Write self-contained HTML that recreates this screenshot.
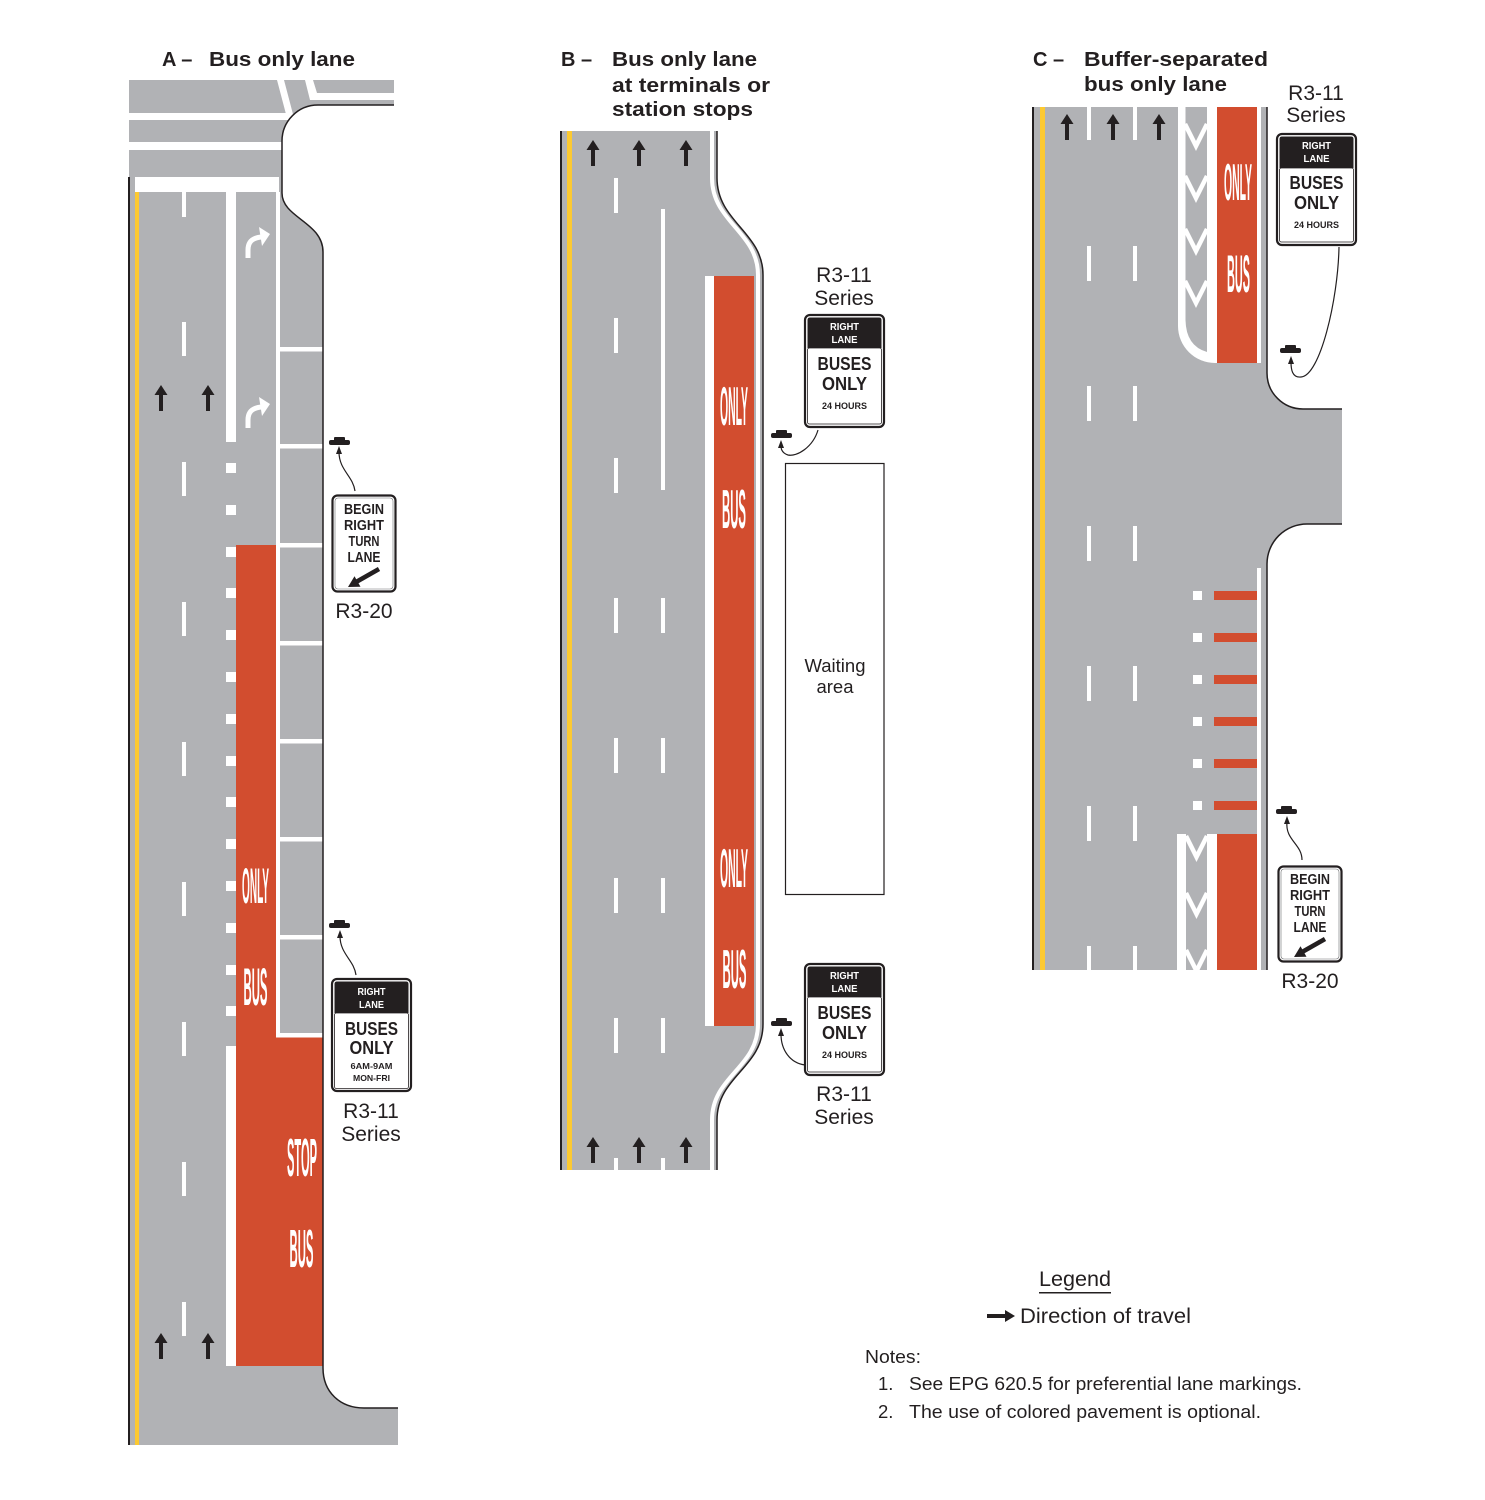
<!DOCTYPE html>
<html>
<head>
<meta charset="utf-8">
<style>
  html,body{margin:0;padding:0;background:#fff;}
  svg{display:block;}
  .t{font-family:"Liberation Sans",Arial,sans-serif;}
</style>
</head>
<body>
<svg width="1485" height="1500" viewBox="0 0 1485 1500" xmlns="http://www.w3.org/2000/svg">
<rect width="1485" height="1500" fill="#fff"/>

<!-- ================= PANEL A ================= -->
<g class="t" font-weight="bold" font-size="20" fill="#231f20">
  <text x="162" y="66">A –</text>
  <text x="209" y="66" textLength="146" lengthAdjust="spacingAndGlyphs">Bus only lane</text>
</g>

<path d="M129 80 H394 V105 H318 A36 36 0 0 0 282 141 V193 C282 218 323 222 323 252 V1368 C323 1392 340 1408 364 1408 H398 V1445 H129 Z" fill="#b1b2b5"/>
<rect x="129" y="113" width="160" height="7" fill="#fff"/>
<polygon points="277,80 284,80 294,118 287,118" fill="#fff"/>
<rect x="129" y="142" width="153" height="8" fill="#fff"/>
<polygon points="305,80 313,80 317,93 394,93 394,100 310,100" fill="#fff"/>
<rect x="135" y="177" width="144" height="15" fill="#fff"/>
<rect x="128" y="177" width="2" height="1268" fill="#231f20"/>
<rect x="135" y="192" width="4" height="1253" fill="#fcc931"/>
<g fill="#fff">
  <rect x="182" y="192" width="4" height="25"/>
  <rect x="182" y="322" width="4" height="34"/>
  <rect x="182" y="462" width="4" height="34"/>
  <rect x="182" y="602" width="4" height="34"/>
  <rect x="182" y="742" width="4" height="34"/>
  <rect x="182" y="882" width="4" height="34"/>
  <rect x="182" y="1022" width="4" height="34"/>
  <rect x="182" y="1162" width="4" height="34"/>
  <rect x="182" y="1302" width="4" height="34"/>
</g>
<rect x="236" y="545" width="40" height="490" fill="#d24d2f"/>
<rect x="236" y="1035" width="87" height="331" fill="#d24d2f"/>
<g fill="#fff">
  <rect x="226" y="192" width="10" height="250"/>
  <rect x="226" y="463" width="10" height="10"/>
  <rect x="226" y="505" width="10" height="10"/>
  <rect x="226" y="547" width="10" height="10"/>
  <rect x="226" y="588" width="10" height="10"/>
  <rect x="226" y="630" width="10" height="10"/>
  <rect x="226" y="672" width="10" height="10"/>
  <rect x="226" y="714" width="10" height="10"/>
  <rect x="226" y="756" width="10" height="10"/>
  <rect x="226" y="797" width="10" height="10"/>
  <rect x="226" y="839" width="10" height="10"/>
  <rect x="226" y="881" width="10" height="10"/>
  <rect x="226" y="923" width="10" height="10"/>
  <rect x="226" y="965" width="10" height="10"/>
  <rect x="226" y="1006" width="10" height="10"/>
  <rect x="226" y="1046" width="10" height="320"/>
</g>
<g fill="#fff">
  <rect x="276" y="192" width="4" height="845"/>
  <rect x="280" y="347" width="43" height="4.5"/>
  <rect x="280" y="444" width="43" height="4.5"/>
  <rect x="280" y="543" width="43" height="4.5"/>
  <rect x="280" y="641" width="43" height="4.5"/>
  <rect x="280" y="739" width="43" height="4.5"/>
  <rect x="280" y="837" width="43" height="4.5"/>
  <rect x="280" y="935" width="43" height="4.5"/>
  <rect x="276" y="1033" width="47" height="4.5"/>
</g>
<path d="M394 105 H318 A36 36 0 0 0 282 141 V193 C282 218 323 222 323 252 V1368 C323 1392 340 1408 364 1408 H398" fill="none" stroke="#231f20" stroke-width="1.5"/>
<g fill="none" stroke="#fff" stroke-width="5">
  <path d="M248 258 V250 C248 242 252 238 261 237"/>
  <path d="M248 428 V420 C248 412 252 408 261 407"/>
</g>
<g fill="#fff">
  <polygon points="270,234 259,227 262,246"/>
  <polygon points="270,404 259,397 262,416"/>
</g>
<g fill="#231f20">
  <path transform="translate(161,385)" d="M-2 26 V10 H-6.5 L0 0 L6.5 10 H2 V26Z"/>
  <path transform="translate(208,385)" d="M-2 26 V10 H-6.5 L0 0 L6.5 10 H2 V26Z"/>
  <path transform="translate(161,1333)" d="M-2 26 V10 H-6.5 L0 0 L6.5 10 H2 V26Z"/>
  <path transform="translate(208,1333)" d="M-2 26 V10 H-6.5 L0 0 L6.5 10 H2 V26Z"/>
</g>
<g class="t" fill="#fff" font-weight="bold" text-anchor="middle">
  <text x="255.5" y="903" font-size="50" textLength="27" lengthAdjust="spacingAndGlyphs">ONLY</text>
  <text x="255.5" y="1005" font-size="53" textLength="24" lengthAdjust="spacingAndGlyphs">BUS</text>
  <text x="302" y="1176" font-size="54" textLength="30" lengthAdjust="spacingAndGlyphs">STOP</text>
  <text x="301.5" y="1267" font-size="54" textLength="24" lengthAdjust="spacingAndGlyphs">BUS</text>
</g>

<!-- Sign A R3-20 -->
<g>
  <rect x="332.5" y="495.5" width="63" height="96" rx="5" fill="#fff" stroke="#231f20" stroke-width="2.2"/>
  <rect x="335" y="498" width="58" height="91" rx="3" fill="none" stroke="#6d6e70" stroke-width="0.6"/>
  <g class="t" font-weight="bold" font-size="14.5" fill="#231f20" text-anchor="middle">
    <text x="364" y="514" textLength="40" lengthAdjust="spacingAndGlyphs">BEGIN</text>
    <text x="364" y="530" textLength="40" lengthAdjust="spacingAndGlyphs">RIGHT</text>
    <text x="364" y="546" textLength="31" lengthAdjust="spacingAndGlyphs">TURN</text>
    <text x="364" y="562" textLength="33" lengthAdjust="spacingAndGlyphs">LANE</text>
  </g>
  <line x1="379" y1="569" x2="357" y2="581.5" stroke="#231f20" stroke-width="4.5"/>
  <polygon points="348,587 360.5,586.7 354.5,576.3" fill="#231f20"/>
</g>
<text class="t" x="364" y="618" font-size="21" text-anchor="middle" fill="#231f20">R3-20</text>
<rect x="329" y="440" width="21" height="5" rx="2" fill="#231f20"/>
<rect x="334" y="437" width="11" height="4" rx="1" fill="#231f20"/>
<path d="M355 491 C353 476 339 470 339 452" fill="none" stroke="#231f20" stroke-width="1.2"/>
<polygon points="339,446 336,454 342,454" fill="#231f20"/>

<!-- Sign A R3-11 -->
<g>
  <rect x="332" y="979" width="79" height="112" rx="5" fill="#fff" stroke="#231f20" stroke-width="2.2"/>
  <path d="M334.5 1013 V984 Q334.5 981.5 337 981.5 H406 Q408.5 981.5 408.5 984 V1013 Z" fill="#231f20"/>
  <rect x="334.5" y="1013" width="74" height="75.5" rx="2" fill="none" stroke="#231f20" stroke-width="0.8"/>
  <g class="t" font-weight="bold" text-anchor="middle">
    <text x="371.5" y="995" font-size="10.5" fill="#fff" textLength="28" lengthAdjust="spacingAndGlyphs">RIGHT</text>
    <text x="371.5" y="1008" font-size="10.5" fill="#fff" textLength="25" lengthAdjust="spacingAndGlyphs">LANE</text>
    <text x="371.5" y="1035" font-size="18" fill="#231f20" textLength="53" lengthAdjust="spacingAndGlyphs">BUSES</text>
    <text x="371.5" y="1054" font-size="18" fill="#231f20" textLength="44" lengthAdjust="spacingAndGlyphs">ONLY</text>
    <text x="371.5" y="1069" font-size="8.5" fill="#231f20" textLength="42" lengthAdjust="spacingAndGlyphs">6AM-9AM</text>
    <text x="371.5" y="1081" font-size="8.5" fill="#231f20" textLength="37" lengthAdjust="spacingAndGlyphs">MON-FRI</text>
  </g>
</g>
<g class="t" font-size="21" text-anchor="middle" fill="#231f20">
  <text x="371" y="1118">R3-11</text>
  <text x="371" y="1141">Series</text>
</g>
<rect x="329" y="923" width="21" height="5" rx="2" fill="#231f20"/>
<rect x="334" y="920" width="11" height="4" rx="1" fill="#231f20"/>
<path d="M356 975 C354 960 340 954 340 936" fill="none" stroke="#231f20" stroke-width="1.2"/>
<polygon points="340,930 337,938 343,938" fill="#231f20"/>

<!-- ================= PANEL B ================= -->
<g class="t" font-weight="bold" font-size="20" fill="#231f20">
  <text x="561" y="66">B –</text>
  <text x="612" y="66" textLength="145" lengthAdjust="spacingAndGlyphs">Bus only lane</text>
  <text x="612" y="92" textLength="158" lengthAdjust="spacingAndGlyphs">at terminals or</text>
  <text x="612" y="116" textLength="141" lengthAdjust="spacingAndGlyphs">station stops</text>
</g>
<path d="M561 131 H717 V178 C717 222 763 232 763 275 V1024 C763 1068 717 1076 717 1120 V1170 H561 Z" fill="#b1b2b5"/>
<path transform="translate(-5,0)" d="M717 131 V178 C717 222 763 232 763 275 V1024 C763 1068 717 1076 717 1120 V1170" fill="none" stroke="#fff" stroke-width="4"/>
<path d="M717 131 V178 C717 222 763 232 763 275 V1024 C763 1068 717 1076 717 1120 V1170" fill="none" stroke="#231f20" stroke-width="1.5"/>
<rect x="560" y="131" width="2" height="1039" fill="#231f20"/>
<rect x="567" y="131" width="5" height="1039" fill="#fcc931"/>
<g fill="#fff">
  <rect x="614" y="178" width="4" height="35"/>
  <rect x="614" y="318" width="4" height="35"/>
  <rect x="614" y="458" width="4" height="35"/>
  <rect x="614" y="598" width="4" height="35"/>
  <rect x="614" y="738" width="4" height="35"/>
  <rect x="614" y="878" width="4" height="35"/>
  <rect x="614" y="1018" width="4" height="35"/>
  <rect x="614" y="1158" width="4" height="12"/>
  <rect x="661" y="209" width="4" height="281"/>
  <rect x="661" y="598" width="4" height="35"/>
  <rect x="661" y="738" width="4" height="35"/>
  <rect x="661" y="878" width="4" height="35"/>
  <rect x="661" y="1018" width="4" height="35"/>
  <rect x="661" y="1158" width="4" height="12"/>
  <rect x="705" y="276" width="9" height="750"/>
</g>
<rect x="714" y="276" width="40" height="750" fill="#d24d2f"/>
<g fill="#231f20">
  <path transform="translate(593,140)" d="M-2 26 V10 H-6.5 L0 0 L6.5 10 H2 V26Z"/>
  <path transform="translate(639,140)" d="M-2 26 V10 H-6.5 L0 0 L6.5 10 H2 V26Z"/>
  <path transform="translate(686,140)" d="M-2 26 V10 H-6.5 L0 0 L6.5 10 H2 V26Z"/>
  <path transform="translate(593,1137)" d="M-2 26 V10 H-6.5 L0 0 L6.5 10 H2 V26Z"/>
  <path transform="translate(639,1137)" d="M-2 26 V10 H-6.5 L0 0 L6.5 10 H2 V26Z"/>
  <path transform="translate(686,1137)" d="M-2 26 V10 H-6.5 L0 0 L6.5 10 H2 V26Z"/>
</g>
<g class="t" fill="#fff" font-weight="bold" text-anchor="middle">
  <text x="734" y="425" font-size="55" textLength="28" lengthAdjust="spacingAndGlyphs">ONLY</text>
  <text x="734" y="528" font-size="55" textLength="24" lengthAdjust="spacingAndGlyphs">BUS</text>
  <text x="734" y="887" font-size="55" textLength="28" lengthAdjust="spacingAndGlyphs">ONLY</text>
  <text x="734.5" y="988" font-size="55" textLength="24" lengthAdjust="spacingAndGlyphs">BUS</text>
</g>
<g class="t" font-size="21" text-anchor="middle" fill="#231f20">
  <text x="844" y="282">R3-11</text>
  <text x="844" y="305">Series</text>
  <text x="844" y="1101">R3-11</text>
  <text x="844" y="1124">Series</text>
</g>
<g>
  <rect x="805" y="315" width="79" height="112" rx="5" fill="#fff" stroke="#231f20" stroke-width="2.2"/>
  <path d="M807.5 348 V320 Q807.5 317.5 810 317.5 H879 Q881.5 317.5 881.5 320 V348 Z" fill="#231f20"/>
  <rect x="807.5" y="348" width="74" height="76" rx="2" fill="none" stroke="#231f20" stroke-width="0.8"/>
  <g class="t" font-weight="bold" text-anchor="middle">
    <text x="844.5" y="330" font-size="10.5" fill="#fff" textLength="29" lengthAdjust="spacingAndGlyphs">RIGHT</text>
    <text x="844.5" y="343" font-size="10.5" fill="#fff" textLength="26" lengthAdjust="spacingAndGlyphs">LANE</text>
    <text x="844.5" y="370" font-size="18" fill="#231f20" textLength="54" lengthAdjust="spacingAndGlyphs">BUSES</text>
    <text x="844.5" y="390" font-size="18" fill="#231f20" textLength="45" lengthAdjust="spacingAndGlyphs">ONLY</text>
    <text x="844.5" y="409" font-size="9" fill="#231f20" textLength="45" lengthAdjust="spacingAndGlyphs">24  HOURS</text>
  </g>
</g>
<rect x="771" y="433" width="21" height="5" rx="2" fill="#231f20"/>
<rect x="776" y="430" width="11" height="4" rx="1" fill="#231f20"/>
<path d="M818 430 C813 447 797 457 788 455 C782 453 781 449 781 446" fill="none" stroke="#231f20" stroke-width="1.2"/>
<polygon points="781,440 778,448 784,448" fill="#231f20"/>
<rect x="785.5" y="463.5" width="98.5" height="431" fill="#fff" stroke="#231f20" stroke-width="1.2"/>
<g class="t" font-size="18.5" text-anchor="middle" fill="#231f20">
  <text x="835" y="672">Waiting</text>
  <text x="835" y="693">area</text>
</g>
<g>
  <rect x="805" y="964" width="79" height="111" rx="5" fill="#fff" stroke="#231f20" stroke-width="2.2"/>
  <path d="M807.5 997 V969 Q807.5 966.5 810 966.5 H879 Q881.5 966.5 881.5 969 V997 Z" fill="#231f20"/>
  <rect x="807.5" y="997" width="74" height="75" rx="2" fill="none" stroke="#231f20" stroke-width="0.8"/>
  <g class="t" font-weight="bold" text-anchor="middle">
    <text x="844.5" y="979" font-size="10.5" fill="#fff" textLength="29" lengthAdjust="spacingAndGlyphs">RIGHT</text>
    <text x="844.5" y="992" font-size="10.5" fill="#fff" textLength="26" lengthAdjust="spacingAndGlyphs">LANE</text>
    <text x="844.5" y="1019" font-size="18" fill="#231f20" textLength="54" lengthAdjust="spacingAndGlyphs">BUSES</text>
    <text x="844.5" y="1039" font-size="18" fill="#231f20" textLength="45" lengthAdjust="spacingAndGlyphs">ONLY</text>
    <text x="844.5" y="1058" font-size="9" fill="#231f20" textLength="45" lengthAdjust="spacingAndGlyphs">24  HOURS</text>
  </g>
</g>
<rect x="771" y="1021" width="21" height="5" rx="2" fill="#231f20"/>
<rect x="776" y="1018" width="11" height="4" rx="1" fill="#231f20"/>
<path d="M781 1034 C781 1050 790 1063 805 1065" fill="none" stroke="#231f20" stroke-width="1.2"/>
<polygon points="781,1028 778,1036 784,1036" fill="#231f20"/>

<!-- ================= PANEL C ================= -->
<g class="t" font-weight="bold" font-size="20" fill="#231f20">
  <text x="1033" y="66">C –</text>
  <text x="1084" y="66" textLength="184" lengthAdjust="spacingAndGlyphs">Buffer-separated</text>
  <text x="1084" y="91" textLength="143" lengthAdjust="spacingAndGlyphs">bus only lane</text>
</g>
<path d="M1033 107 H1267 V373 A36 36 0 0 0 1303 409 H1342 V524 H1307 A40 40 0 0 0 1267 564 V970 H1033 Z" fill="#b1b2b5"/>
<path d="M1267 107 V373 A36 36 0 0 0 1303 409 H1342 M1342 524 H1307 A40 40 0 0 0 1267 564 V970" fill="none" stroke="#231f20" stroke-width="1.5"/>
<rect x="1032" y="107" width="2" height="863" fill="#231f20"/>
<rect x="1040" y="107" width="5" height="863" fill="#fcc931"/>
<g fill="#fff">
  <rect x="1087" y="107" width="4" height="33"/>
  <rect x="1133" y="107" width="4" height="33"/>
  <rect x="1087" y="246" width="4" height="35"/>
  <rect x="1133" y="246" width="4" height="35"/>
  <rect x="1087" y="386" width="4" height="35"/>
  <rect x="1133" y="386" width="4" height="35"/>
  <rect x="1087" y="526" width="4" height="35"/>
  <rect x="1133" y="526" width="4" height="35"/>
  <rect x="1087" y="666" width="4" height="35"/>
  <rect x="1133" y="666" width="4" height="35"/>
  <rect x="1087" y="806" width="4" height="35"/>
  <rect x="1133" y="806" width="4" height="35"/>
  <rect x="1087" y="946" width="4" height="24"/>
  <rect x="1133" y="946" width="4" height="24"/>
</g>
<g fill="#231f20">
  <path transform="translate(1067,114)" d="M-2 26 V10 H-6.5 L0 0 L6.5 10 H2 V26Z"/>
  <path transform="translate(1113,114)" d="M-2 26 V10 H-6.5 L0 0 L6.5 10 H2 V26Z"/>
  <path transform="translate(1159,114)" d="M-2 26 V10 H-6.5 L0 0 L6.5 10 H2 V26Z"/>
</g>
<path d="M1178 107 V326 A37 37 0 0 0 1215 363 H1217 V107 Z" fill="#fff"/>
<path d="M1185.5 107 V320 Q1186 346 1207 352 V107 Z" fill="#b1b2b5"/>
<g fill="none" stroke="#fff" stroke-width="4.5">
  <polyline points="1185,124 1196,146 1207,124"/>
  <polyline points="1185,176 1196,198 1207,176"/>
  <polyline points="1185,229 1196,251 1207,229"/>
  <polyline points="1185,281 1196,303 1207,281"/>
</g>
<rect x="1217" y="107" width="40" height="256" fill="#d24d2f"/>
<rect x="1257" y="107" width="4" height="256" fill="#fff"/>
<g class="t" fill="#fff" font-weight="bold" text-anchor="middle">
  <text x="1238" y="200" font-size="52" textLength="28" lengthAdjust="spacingAndGlyphs">ONLY</text>
  <text x="1238.5" y="292" font-size="53" textLength="23" lengthAdjust="spacingAndGlyphs">BUS</text>
</g>
<rect x="1257" y="568" width="4" height="402" fill="#fff"/>
<g fill="#fff">
  <rect x="1193" y="591" width="9" height="9"/>
  <rect x="1193" y="633" width="9" height="9"/>
  <rect x="1193" y="675" width="9" height="9"/>
  <rect x="1193" y="717" width="9" height="9"/>
  <rect x="1193" y="759" width="9" height="9"/>
  <rect x="1193" y="801" width="9" height="9"/>
</g>
<g fill="#d24d2f">
  <rect x="1214" y="591" width="43" height="9"/>
  <rect x="1214" y="633" width="43" height="9"/>
  <rect x="1214" y="675" width="43" height="9"/>
  <rect x="1214" y="717" width="43" height="9"/>
  <rect x="1214" y="759" width="43" height="9"/>
  <rect x="1214" y="801" width="43" height="9"/>
</g>
<rect x="1177" y="834" width="40" height="136" fill="#fff"/>
<rect x="1186" y="834" width="21" height="136" fill="#b1b2b5"/>
<g fill="none" stroke="#fff" stroke-width="4.5">
  <polyline points="1186,836 1196.5,857 1207,836"/>
  <polyline points="1186,893 1196.5,914 1207,893"/>
  <polyline points="1186,950 1196.5,971 1207,950"/>
</g>
<rect x="1217" y="834" width="40" height="136" fill="#d24d2f"/>

<g class="t" font-size="21" text-anchor="middle" fill="#231f20">
  <text x="1316" y="100">R3-11</text>
  <text x="1316" y="122">Series</text>
</g>
<g>
  <rect x="1277" y="134" width="79" height="111" rx="5" fill="#fff" stroke="#231f20" stroke-width="2.2"/>
  <path d="M1279.5 168 V139 Q1279.5 136.5 1282 136.5 H1351 Q1353.5 136.5 1353.5 139 V168 Z" fill="#231f20"/>
  <rect x="1279.5" y="168" width="74" height="74" rx="2" fill="none" stroke="#231f20" stroke-width="0.8"/>
  <g class="t" font-weight="bold" text-anchor="middle">
    <text x="1316.5" y="149" font-size="10.5" fill="#fff" textLength="29" lengthAdjust="spacingAndGlyphs">RIGHT</text>
    <text x="1316.5" y="162" font-size="10.5" fill="#fff" textLength="26" lengthAdjust="spacingAndGlyphs">LANE</text>
    <text x="1316.5" y="189" font-size="18" fill="#231f20" textLength="54" lengthAdjust="spacingAndGlyphs">BUSES</text>
    <text x="1316.5" y="209" font-size="18" fill="#231f20" textLength="45" lengthAdjust="spacingAndGlyphs">ONLY</text>
    <text x="1316.5" y="228" font-size="9" fill="#231f20" textLength="45" lengthAdjust="spacingAndGlyphs">24  HOURS</text>
  </g>
</g>
<rect x="1280" y="348" width="21" height="5" rx="2" fill="#231f20"/>
<rect x="1285" y="345" width="11" height="4" rx="1" fill="#231f20"/>
<path d="M1339 247 C1338 300 1320 376 1301 377 C1292 378 1291 369 1291 362" fill="none" stroke="#231f20" stroke-width="1.2"/>
<polygon points="1291,356 1288,364 1294,364" fill="#231f20"/>

<g>
  <rect x="1278.5" y="866.5" width="63" height="95" rx="5" fill="#fff" stroke="#231f20" stroke-width="2.2"/>
  <rect x="1281" y="869" width="58" height="90" rx="3" fill="none" stroke="#6d6e70" stroke-width="0.6"/>
  <g class="t" font-weight="bold" font-size="14.5" fill="#231f20" text-anchor="middle">
    <text x="1310" y="884" textLength="40" lengthAdjust="spacingAndGlyphs">BEGIN</text>
    <text x="1310" y="900" textLength="40" lengthAdjust="spacingAndGlyphs">RIGHT</text>
    <text x="1310" y="916" textLength="31" lengthAdjust="spacingAndGlyphs">TURN</text>
    <text x="1310" y="932" textLength="33" lengthAdjust="spacingAndGlyphs">LANE</text>
  </g>
  <line x1="1325" y1="939" x2="1303" y2="951.5" stroke="#231f20" stroke-width="4.5"/>
  <polygon points="1294,957 1306.5,956.7 1300.5,946.3" fill="#231f20"/>
</g>
<text class="t" x="1310" y="988" font-size="21" text-anchor="middle" fill="#231f20">R3-20</text>
<rect x="1276" y="809" width="21" height="5" rx="2" fill="#231f20"/>
<rect x="1281" y="806" width="11" height="4" rx="1" fill="#231f20"/>
<path d="M1287 822 C1285 840 1302 844 1302 860" fill="none" stroke="#231f20" stroke-width="1.2"/>
<polygon points="1287,816 1284,824 1290,824" fill="#231f20"/>

<!-- ================= LEGEND / NOTES ================= -->
<g class="t" fill="#231f20">
  <text x="1039" y="1286" font-size="21.5" textLength="72" lengthAdjust="spacingAndGlyphs">Legend</text>
  <rect x="1039" y="1292" width="72" height="1.5"/>
  <path d="M987 1314 H1005 V1310 L1015 1316 L1005 1322 V1318 H987 Z"/>
  <text x="1020" y="1323" font-size="21.5" textLength="171" lengthAdjust="spacingAndGlyphs">Direction of travel</text>
  <text x="865" y="1363" font-size="18.5" textLength="56" lengthAdjust="spacingAndGlyphs">Notes:</text>
  <text x="878" y="1390" font-size="18.5">1.</text>
  <text x="909" y="1390" font-size="18.5" textLength="393" lengthAdjust="spacingAndGlyphs">See EPG 620.5 for preferential lane markings.</text>
  <text x="878" y="1418" font-size="18.5">2.</text>
  <text x="909" y="1418" font-size="18.5" textLength="352" lengthAdjust="spacingAndGlyphs">The use of colored pavement is optional.</text>
</g>
</svg>
</body>
</html>
